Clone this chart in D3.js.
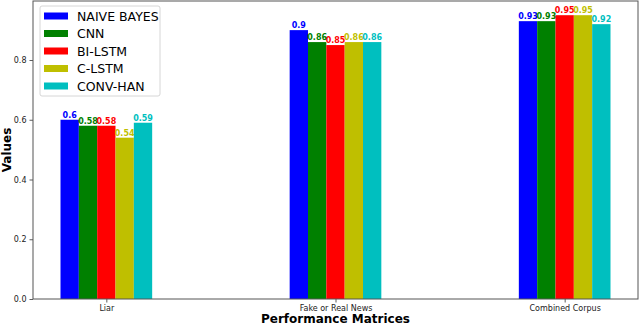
<!DOCTYPE html>
<html>
<head>
<meta charset="utf-8">
<script src="https://cdn.jsdelivr.net/npm/d3@7"></script>
<style>
  body { margin: 0; background: #fff; }
  svg { display: block; font-family: "DejaVu Sans", sans-serif; }
</style>
</head>
<body>
<svg id="chart" width="640" height="325"></svg>
<script>
const categories = ["Liar", "Fake or Real News", "Combined Corpus"];
const models = ["NAIVE BAYES", "CNN", "BI-LSTM", "C-LSTM", "CONV-HAN"];
const naiveBayes = [0.6, 0.9, 0.93];
const cnn = [0.58, 0.86, 0.93];
const biLstm = [0.58, 0.85, 0.95];
const cLstm = [0.54, 0.86, 0.95];
const convHan = [0.59, 0.86, 0.92];
const yTicks = [0.0, 0.2, 0.4, 0.6, 0.8];

const series = [naiveBayes, cnn, biLstm, cLstm, convHan];
const colors = ["#0000ff", "#008000", "#ff0000", "#bfbf00", "#00bfbf"];

const plotLeft = 33, plotRight = 638, plotTop = 1, plotBottom = 299;
const barW = 0.08;

const svg = d3.select("#chart");

const x = d3.scaleLinear().domain([-0.32, 2.32]).range([plotLeft, plotRight]);
const y = d3.scaleLinear().domain([0, 0.9975]).range([plotBottom, plotTop]);

// bars
series.forEach((vals, s) => {
    const g = svg.append("g");
    g.selectAll("rect")
        .data(vals)
        .enter()
        .append("rect")
        .attr("x", (d, i) => x(i + (s - 2.5) * barW))
        .attr("y", d => y(d))
        .attr("width", x(barW) - x(0))
        .attr("height", d => y(0) - y(d))
        .attr("fill", colors[s]);

    g.selectAll("text")
        .data(vals)
        .enter()
        .append("text")
        .attr("x", (d, i) => x(i + (s - 2) * barW))
        .attr("y", d => y(d) - 2)
        .attr("text-anchor", "middle")
        .style("font-size", "8px")
        .style("font-weight", "bold")
        .attr("fill", colors[s])
        .text(d => d);
});

// axes
const yAxis = d3.axisLeft(y).tickValues(yTicks).tickFormat(d3.format(".1f")).tickSize(3.5).tickPadding(3);
const xAxis = d3.axisBottom(x).tickValues([0, 1, 2]).tickFormat(i => categories[i]).tickSize(3.5).tickPadding(3);

const gy = svg.append("g").attr("transform", "translate(" + plotLeft + ",0)").call(yAxis);
const gx = svg.append("g").attr("transform", "translate(0," + plotBottom + ")").call(xAxis);
[gx, gy].forEach(g => {
    g.select(".domain").remove();
    g.selectAll(".tick line").attr("stroke", "#333").attr("stroke-width", 0.8);
    g.selectAll(".tick text").attr("fill", "#222").style("font-size", "8px").style("font-family", "DejaVu Sans");
});

// frame
svg.append("rect")
    .attr("x", plotLeft).attr("y", plotTop)
    .attr("width", plotRight - plotLeft).attr("height", plotBottom - plotTop)
    .attr("fill", "none").attr("stroke", "#555").attr("stroke-width", 1);

// axis titles
svg.append("text")
    .attr("x", (plotLeft + plotRight) / 2).attr("y", 323)
    .attr("text-anchor", "middle")
    .style("font-size", "12px").style("font-weight", "bold")
    .text("Performance Matrices");

svg.append("text")
    .attr("transform", "translate(11," + (plotTop + plotBottom) / 2 + ") rotate(-90)")
    .attr("text-anchor", "middle")
    .style("font-size", "12px").style("font-weight", "bold")
    .text("Values");

// legend
const legend = svg.append("g").attr("transform", "translate(40,6)");
legend.append("rect")
    .attr("width", 120).attr("height", 90).attr("rx", 2)
    .attr("fill", "#fff").attr("fill-opacity", 0.8)
    .attr("stroke", "#ccc").attr("stroke-width", 0.8);
const items = legend.selectAll("g.item")
    .data(models)
    .enter()
    .append("g")
    .attr("class", "item")
    .attr("transform", (d, i) => "translate(4," + (10 + i * 17.5) + ")");
items.append("rect")
    .attr("x", 0).attr("y", -3.5)
    .attr("width", 24).attr("height", 7)
    .attr("fill", (d, i) => colors[i]);
items.append("text")
    .attr("x", 33).attr("y", 4.5)
    .style("font-size", "12.5px")
    .text(d => d);
</script>
</body>
</html>
